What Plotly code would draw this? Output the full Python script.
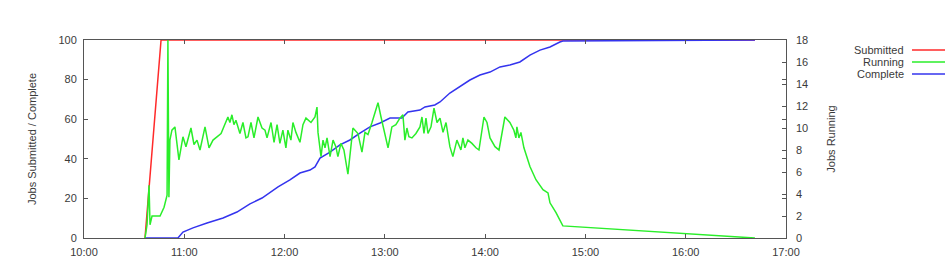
import pandas as pd
import plotly.graph_objects as go

BASE = pd.Timestamp("2024-01-01 10:00:00")

# Minutes after 10:00 and values
sub_min = [36.5, 46.1, 401.4]
sub_val = [0, 100, 100]

run_min = [36.5, 37.7, 38.9, 39.5, 40.7, 45.5, 47.9, 49.7, 50.2, 50.8, 51.4, 52.6, 54.4, 56.8,
           59.2, 61.0, 64.0, 65.8, 67.6, 69.4, 72.4, 74.8, 77.2, 82.0, 86.1, 87.3, 88.5, 89.7,
           90.9, 93.3, 95.1, 96.9, 98.1, 99.9, 101.7, 104.1, 106.5, 108.3, 109.5, 111.9, 113.7,
           115.5, 117.2, 119.0, 120.8, 122.0, 123.8, 125.0, 126.8, 129.2, 131.0, 132.8, 135.8,
           138.2, 139.4, 140.0, 141.8, 143.0, 144.2, 145.4, 147.2, 149.0, 150.7, 151.9, 153.7,
           155.5, 157.9, 160.9, 163.9, 166.3, 168.1, 169.9, 172.3, 174.1, 175.9, 177.7, 180.1,
           181.9, 184.2, 186.6, 189.0, 190.8, 192.0, 193.2, 194.4, 196.2, 198.6, 201.0, 202.2,
           203.4, 204.6, 205.8, 207.6, 209.4, 211.2, 213.0, 214.8, 216.6, 218.9, 220.7, 223.1,
           225.5, 226.7, 227.9, 229.7, 232.1, 234.5, 236.3, 239.3, 241.1, 242.9, 245.9, 248.3,
           251.8, 254.8, 257.2, 258.4, 259.0, 260.2, 261.4, 263.2, 266.8, 270.4, 274.6, 277.6,
           278.8, 282.4, 286.5, 401.4]
run_val = [0, 1.2, 4.8, 1.2, 2.0, 2.0, 2.8, 3.9, 18, 3.7, 8.9, 9.8, 10.1, 7.1,
           9.2, 8.3, 10.0, 8.5, 8.9, 8.0, 10.1, 8.2, 8.9, 9.5, 11.0, 10.5, 11.2, 10.3,
           10.7, 9.5, 10.5, 9.1, 9.2, 10.5, 9.1, 11.0, 10.0, 9.8, 9.1, 10.5, 8.7,
           10.3, 8.6, 9.8, 8.2, 9.8, 8.9, 10.5, 9.6, 8.7, 10.3, 10.9, 10.5,
           11.0, 11.9, 9.6, 7.4, 8.9, 8.2, 9.1, 7.4, 8.9, 8.3, 7.4, 8.6,
           8.0, 5.8, 10.0, 9.5, 7.8, 9.6, 9.4, 10.5, 11.5, 12.3, 11.0, 9.5,
           8.2, 10.1, 10.3, 10.9, 11.2, 8.9, 10.0, 9.2, 9.1, 9.5, 10.1, 11.0,
           9.5, 10.9, 9.5, 10.1, 11.8, 10.5, 10.9, 9.6, 10.5, 8.3, 7.4, 8.9,
           8.0, 9.1, 8.2, 8.9, 8.6, 8.2, 8.0, 11.0, 10.5, 9.1, 8.3, 8.0,
           11.0, 10.5, 9.8, 9.1, 10.1, 9.1, 9.6, 8.2, 6.5, 5.3, 4.4, 4.1,
           3.2, 2.3, 1.1, 0]

comp_min = [36.5, 56.2, 59.2, 65.2, 73.6, 83.2, 91.5, 99.3, 106.5, 116.1, 123.2, 129.2, 135.2,
            138.2, 141.2, 147.2, 153.1, 159.1, 165.1, 171.1, 177.1, 183.1, 190.2, 193.8, 201.0,
            204.0, 209.9, 213.0, 218.9, 224.9, 230.9, 236.9, 242.9, 248.9, 254.8, 260.8, 266.8,
            272.8, 278.8, 284.7, 286.5, 401.4]
comp_val = [0, 0, 3.0, 5.1, 7.6, 10.1, 13.1, 17.2, 20.2, 25.8, 29.3, 32.8, 34.3,
            35.9, 40.4, 43.4, 47.0, 49.5, 53.0, 56.1, 58.1, 60.6, 60.6, 63.6, 64.6,
            66.2, 67.2, 68.7, 73.2, 76.3, 79.8, 82.3, 83.8, 86.4, 87.4, 88.9, 92.4,
            94.9, 96.5, 99.0, 99.5, 100]

x_ticks = ["10:00", "11:00", "12:00", "13:00", "14:00", "15:00", "16:00", "17:00"]

def to_t(mins):
    return [BASE + pd.Timedelta(minutes=m) for m in mins]

RED, GREEN, BLUE = "#ff2a2a", "#2aee2a", "#3434ee"
FRAME = "#555555"
TXT = "#3a3a3a"
FONT = "Liberation Sans"

fig = go.Figure()
fig.add_trace(go.Scatter(x=to_t(sub_min), y=sub_val, mode="lines", name="Submitted",
                         line=dict(color=RED, width=1.5)))
fig.add_trace(go.Scatter(x=to_t(run_min), y=run_val, mode="lines", name="Running",
                         yaxis="y2", line=dict(color=GREEN, width=1.5)))
fig.add_trace(go.Scatter(x=to_t(comp_min), y=comp_val, mode="lines", name="Complete",
                         line=dict(color=BLUE, width=1.5)))

tickvals = [BASE + pd.Timedelta(hours=i) for i in range(len(x_ticks))]

fig.update_layout(
    width=950, height=266,
    margin=dict(l=84, r=164, t=40, b=28),
    paper_bgcolor="white", plot_bgcolor="white",
    showlegend=False,
    font=dict(family=FONT, size=11, color=TXT),
    xaxis=dict(range=[tickvals[0], tickvals[-1]], tickvals=tickvals, ticktext=x_ticks,
               showgrid=False, zeroline=False, showline=True, linecolor=FRAME, linewidth=1,
               mirror="ticks", ticks="inside", ticklen=4, tickcolor=FRAME,
               ticklabelstandoff=4, automargin=False,
               tickfont=dict(size=11, color=TXT)),
    yaxis=dict(range=[0, 100], dtick=20, showgrid=False, zeroline=False, showline=True,
               linecolor=FRAME, linewidth=1, mirror="ticks", ticks="inside", ticklen=4,
               tickcolor=FRAME, tickfont=dict(size=11, color=TXT), ticklabelstandoff=4,
               automargin=False,
               title=dict(text="Jobs Submitted / Complete", font=dict(size=11, color=TXT),
                          standoff=19)),
    yaxis2=dict(range=[0, 18], dtick=2, overlaying="y", side="right", showgrid=False,
                zeroline=False, showline=False, ticks="inside", ticklen=4, tickcolor=FRAME,
                tickfont=dict(size=11, color=TXT), ticklabelstandoff=9, automargin=False,
                title=dict(text="Jobs Running", font=dict(size=11, color=TXT),
                           standoff=20)),
)

# gnuplot-style key: right-aligned labels followed by line samples
legend_items = [("Submitted", RED), ("Running", GREEN), ("Complete", BLUE)]
for i, (name, col) in enumerate(legend_items):
    ypix = 50 + 12 * i
    yp = 1 - (ypix - 40) / 198
    fig.add_annotation(xref="paper", yref="paper", x=(906 - 84) / 702, y=yp,
                       text=name, showarrow=False, xanchor="right", yanchor="middle",
                       font=dict(size=11, color=TXT))
    fig.add_shape(type="line", xref="paper", yref="paper",
                  x0=(912 - 84) / 702, x1=(945 - 84) / 702, y0=yp, y1=yp,
                  line=dict(color=col, width=1.5))

fig.write_html("out.html")
